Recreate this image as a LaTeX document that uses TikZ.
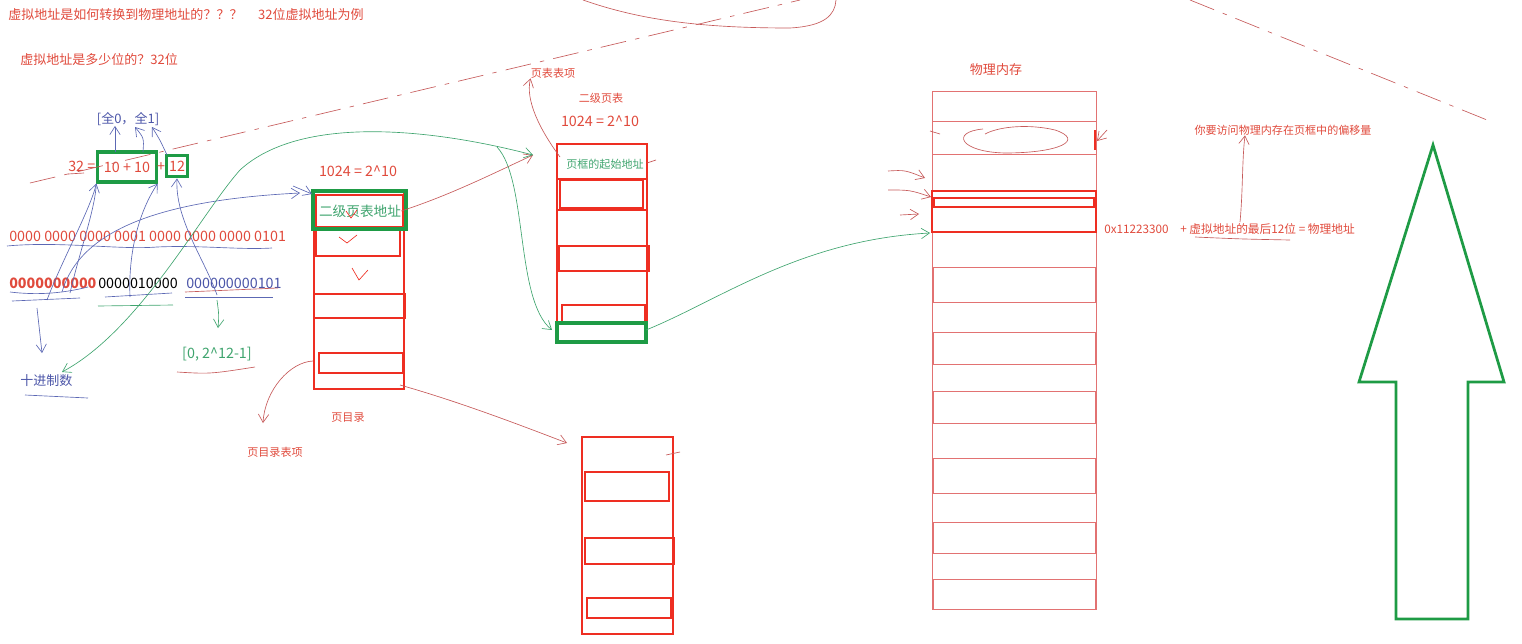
\documentclass[tikz,border=0pt]{standalone}
\usepackage{fontspec}
\setmainfont{Noto Sans CJK SC}
\usetikzlibrary{arrows.meta,calc,positioning}
\definecolor{hrot}{HTML}{E04A3C}
\definecolor{krot}{HTML}{EE2E22}
\definecolor{lrot}{HTML}{C65A5A}
\definecolor{srot}{HTML}{E27272}
\definecolor{gruen}{HTML}{1E9B45}
\definecolor{hgruen}{HTML}{3FA46E}
\definecolor{blau}{HTML}{4B55A8}
\definecolor{hblau}{HTML}{5C68B4}
\tikzset{
  rtext/.style={text=hrot,inner sep=0pt},
  gtext/.style={text=hgruen,inner sep=0pt},
  btext/.style={text=blau,inner sep=0pt},
  klein/.style={font=\fontsize{8.5}{10}\selectfont},
  mittel/.style={font=\fontsize{10}{12}\selectfont},
  zahl/.style={font=\fontsize{11}{13}\selectfont},
  kasten/.style={draw=krot,line width=2.2pt},
  gkasten/.style={draw=gruen,line width=2.4pt},
  zeile/.style={draw=srot,line width=0.7pt},
  spitze/.style={-{Straight Barb[length=2.2mm,width=2.8mm]},line width=0.5pt},
  strich/.style={line width=0.5pt},
  strichel/.style={lrot,line width=0.5pt,dash pattern=on 7mm off 2.5mm on 1.2mm off 2.5mm},
  umriss/.style={gruen,line width=2.1pt,line join=miter},
}

\begin{document}
\begin{tikzpicture}[x=0.27mm,y=-0.27mm]
  \useasboundingbox (0,0) rectangle (1522,643);

  % Texte links oben
  \node[rtext,mittel,anchor=west] (frage) at (8,15) {虚拟地址是如何转换到物理地址的？？？\hspace{1.2em}32位虚拟地址为例};
  \node[rtext,mittel,anchor=west] (breite) at (20,60) {虚拟地址是多少位的？32位};
  \node[btext,mittel] (bereich) at (128,119) {[全0，全1]};
  \node[rtext,zahl,anchor=west] (zweiund) at (68,166) {32 =};
  \node[gkasten,rtext,zahl,minimum width=15.7mm,minimum height=8.1mm] (zehn) at (127,167) {10 + 10};
  \node[rtext,zahl] (plus) at (161,167) {+};
  \node[gkasten,rtext,zahl,minimum width=5.9mm,minimum height=5.9mm] (zwoelf) at (177,166) {12};
  \node[rtext,zahl,anchor=west] (binaer) at (9,236) {0000 0000 0000 0001 0000 0000 0000 0101};
  \node[rtext,zahl,anchor=west,font=\fontsize{11}{13}\selectfont\bfseries] (hoch) at (9,283) {0000000000};
  \node[zahl,inner sep=0pt,anchor=west] (mitte) at (98,283) {0000010000};
  \node[btext,zahl,anchor=west] (tief) at (186,283) {000000000101};
  \node[gtext,zahl] (versatz) at (217,354) {[0, 2\^{}12-1]};
  \node[btext,mittel,anchor=west] (dezimal) at (20,381) {十进制数};

  % Unterstriche
  \draw[hblau,strich] (7,246) .. controls (60,241) and (120,250) .. (157,247) .. controls (200,245) and (240,250) .. (272,248);
  \draw[hblau,strich] (10,292) .. controls (35,295) and (60,294) .. (88,287);
  \draw[hblau,strich] (12,301) -- (80,298);
  \draw[hblau,strich] (105,297) -- (172,293);
  \draw[hgruen,strich] (98,306) -- (173,305);
  \draw[lrot,strich] (185,292) -- (278,288);
  \draw[hblau,strich] (185,297) -- (273,297);
  \draw[lrot,strich] (177,372) .. controls (210,374) .. (255,367);
  \draw[hblau,strich] (25,395) -- (88,398);
  \draw[lrot,strich] (68,174) -- (84,173);

  % Pfeile von den Bits
  \coordinate (b1) at (47,300);
  \coordinate (b2) at (70,293);
  \coordinate (b3) at (130,297);
  \coordinate (b4) at (217,295);
  \draw[hblau,spitze] (b1) .. controls (62,260) and (90,210) .. (zehn.south west);
  \draw[hblau,strich] (b2) .. controls (80,250) and (95,210) .. (zehn.south west);
  \draw[hblau,spitze] (b3) .. controls (128,250) and (140,210) .. (zehn.south east);
  \draw[hblau,spitze] (b4) .. controls (205,260) and (175,220) .. (zwoelf.south);
  \draw[hblau,spitze] (115,152) -- (bereich.south -| 115,0);
  \draw[hblau,spitze] (143,152) .. controls (144,138) .. (135,127);
  \draw[hblau,spitze] (167,155) .. controls (160,140) .. (152,127);
  \draw[hblau,spitze] (37,308) .. controls (40,330) .. (42,353);
  \draw[hgruen,spitze] (217,300) .. controls (219,315) .. (218,328);

  % Seitenverzeichnis
  \draw[kasten] (314,191) rectangle (404,389);
  \draw[kasten] (316,229) rectangle (400,256);
  \draw[kasten] (314,294) rectangle (405,318);
  \draw[kasten] (319,353) rectangle (403,373);
  \draw[krot,line width=1pt] (316,195) rectangle (403,227);
  \draw[gkasten] (313,191) rectangle (406,229);
  \node[gtext,font=\fontsize{10.5}{12}\selectfont] (ptadr) at (360,211) {二级页表地址};
  \node[rtext,zahl] (pdgroesse) at (358,171) {1024 = 2\^{}10};
  \node[rtext,klein] (pd) at (348,418) {页目录};
  \node[rtext,klein] (pde) at (275,452) {页目录表项};
  \draw[krot,strich] (346,211) -- (351,218) -- (357,210);
  \draw[krot,strich] (339,237) -- (347,243) -- (357,235);
  \draw[krot,strich] (352,268) -- (359,280) -- (368,270);

  % Seitentabelle
  \draw[kasten] (557,144) rectangle (647,343);
  \draw[kasten] (557,144) rectangle (647,179);
  \draw[kasten] (560,180) rectangle (643,208);
  \draw[kasten] (557,210) -- (647,210);
  \draw[kasten] (559,246) rectangle (649,271);
  \draw[kasten] (562,305) rectangle (645,323);
  \draw[gkasten] (557,323) rectangle (646,342);
  \node[gtext,klein] (rahmen) at (605,164) {页框的起始地址};
  \node[rtext,zahl] (ptgroesse) at (600,121) {1024 = 2\^{}10};
  \node[rtext,klein] (pt) at (601,98) {二级页表};
  \node[rtext,klein] (pte) at (553,73) {页表表项};
  \draw[lrot,strich] (647,163) -- (656,160);

  % weitere Tabelle
  \draw[kasten] (582,437) rectangle (673,634);
  \draw[kasten] (585,472) rectangle (669,501);
  \draw[kasten] (585,538) rectangle (674,564);
  \draw[kasten] (587,598) rectangle (671,618);
  \draw[lrot,strich] (666,455) -- (680,452);

  % Physischer Speicher
  \node[rtext,mittel] (speicher) at (996,70) {物理内存};
  \draw[zeile] (932,91) rectangle (1096,609);
  \draw[zeile] (932,121) -- (1096,121);
  \draw[zeile] (932,154) -- (1096,154);
  \foreach \o/\u in {267/302,332/364,391/423,458/493,522/553,579/609}
    \draw[zeile] (933,\o) rectangle (1095,\u);
  \draw[kasten] (932,191) rectangle (1096,232);
  \draw[krot,line width=1.2pt] (934,198) rectangle (1094,207);
  \draw[lrot,strich] (983,129) .. controls (950,132) and (960,152) .. (1005,153)
    .. controls (1060,153) and (1085,140) .. (1055,130) .. controls (1030,124) and (1000,126) .. (985,134);
  \draw[lrot,strich] (930,131) -- (940,134);
  \node[rtext,font=\fontsize{9}{11}\selectfont,anchor=west] (basis) at (1104,229) {0x11223300};
  \node[rtext,font=\fontsize{9}{11}\selectfont,anchor=west] (summe) at (1180,229) {+ 虚拟地址的最后12位 = 物理地址};
  \node[rtext,klein] (offset) at (1283,130) {你要访问物理内存在页框中的偏移量};
  \draw[lrot,strich] (1195,237) .. controls (1240,239) .. (1290,240);

  % Verbindungen
  \coordinate (pdunten) at (400,385);
  \coordinate (pdeintrag) at (313,361);
  \coordinate (ptoben) at (533,155);
  \coordinate (ptrahmen) at (560,157);
  \coordinate (ptgruen) at (552,330);
  \coordinate (ptaus) at (646,330);
  \coordinate (memein) at (930,233);
  \coordinate (dtoben) at (567,443);
  \coordinate (gabel) at (497,147);
  \coordinate (pdlinks) at (300,193);
  \draw[lrot,spitze] (ptadr.east) .. controls (450,195) and (490,175) .. (ptoben);
  \draw[lrot,spitze] (ptrahmen) .. controls (540,130) and (525,100) .. (pte.south west);
  \draw[lrot,spitze] (pdunten) .. controls (460,402) and (520,425) .. (dtoben);
  \draw[lrot,spitze] (pdeintrag) .. controls (290,362) and (265,390) .. (263,423);
  \draw[lrot,spitze] (1240,222) .. controls (1243,190) and (1242,160) .. (offset.south -| 1245,0);
  \draw[lrot,spitze] (888,171) .. controls (905,170) .. (925,178);
  \draw[lrot,spitze] (888,190) .. controls (910,190) .. (931,197);
  \draw[lrot,spitze] (900,215) -- (919,214);
  \draw[krot,line width=1pt] (1095,130) -- (1095,150);
  \draw[lrot,spitze] (1107,130) -- (1097,141);
  \draw[hblau,spitze] (62,292) .. controls (80,230) and (160,200) .. (pdlinks);
  \draw[hblau,spitze] (293,186) -- (312,194);
  \draw[hgruen,strich,{Straight Barb[length=2.2mm,width=2.8mm]}-{Straight Barb[length=2.2mm,width=2.8mm]}]
    (62,372) .. controls (140,330) and (200,215) .. (240,170) .. controls (300,115) and (430,128) .. (ptoben);
  \draw[hgruen,spitze] (gabel) .. controls (528,180) and (515,300) .. (ptgruen);
  \draw[hgruen,spitze] (ptaus) .. controls (720,300) and (800,240) .. (memein);

  % Striche und Schleife oben
  \draw[strichel] (30,183) -- (800,0);
  \draw[strichel] (1190,0) -- (1492,122);
  \draw[lrot,strich] (583,0) .. controls (640,20) and (700,28) .. (790,28) .. controls (825,26) and (835,15) .. (836,0);

  % grosser Pfeil
  \draw[umriss] (1433,145) -- (1504,382) -- (1468,382) -- (1468,619) -- (1396,619) -- (1396,382) -- (1359,382) -- cycle;
\end{tikzpicture}
\end{document}
